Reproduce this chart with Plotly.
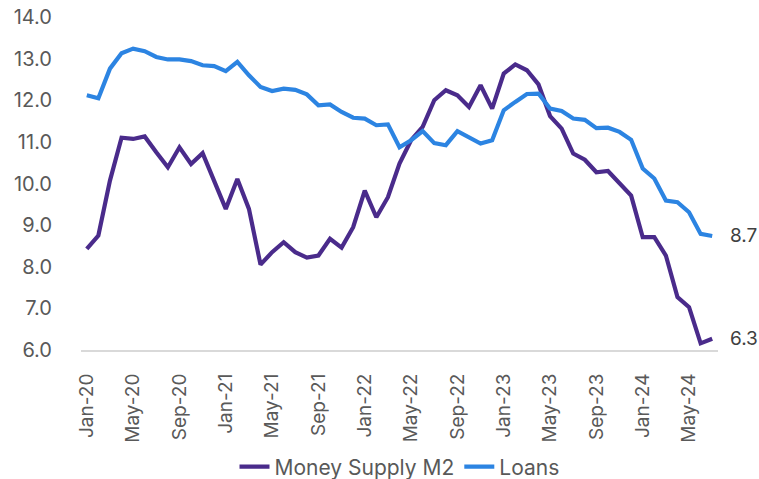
import plotly.graph_objects as go

# monthly, Jan-20 .. Jul-24
months = [f"{m}-{y}" for y in range(20, 25)
          for m in ["Jan", "Feb", "Mar", "Apr", "May", "Jun",
                    "Jul", "Aug", "Sep", "Oct", "Nov", "Dec"]][:55]

m2 = [8.43, 8.75, 10.07, 11.10, 11.07, 11.13, 10.75, 10.39, 10.87, 10.47,
      10.73, 10.07, 9.39, 10.11, 9.39, 8.05, 8.35, 8.59, 8.35, 8.22,
      8.27, 8.67, 8.46, 8.95, 9.83, 9.19, 9.67, 10.48, 11.04, 11.36,
      12.00, 12.24, 12.12, 11.84, 12.36, 11.80, 12.64, 12.86, 12.72, 12.38,
      11.62, 11.32, 10.72, 10.57, 10.27, 10.30, 10.00, 9.71, 8.71, 8.71,
      8.27, 7.27, 7.03, 6.16, 6.27]

loans = [12.12, 12.05, 12.76, 13.13, 13.24, 13.18, 13.04, 12.98, 12.98, 12.94,
         12.84, 12.82, 12.70, 12.92, 12.60, 12.32, 12.22, 12.28, 12.25, 12.14,
         11.88, 11.90, 11.72, 11.58, 11.56, 11.40, 11.42, 10.87, 11.04, 11.26,
         10.97, 10.92, 11.26, 11.10, 10.96, 11.04, 11.76, 11.96, 12.15, 12.16,
         11.80, 11.74, 11.56, 11.53, 11.33, 11.34, 11.24, 11.05, 10.36, 10.12,
         9.59, 9.55, 9.31, 8.79, 8.74]

y_ticks = [6, 7, 8, 9, 10, 11, 12, 13, 14]

series = [("Money Supply M2", m2, "#4a2b8b"), ("Loans", loans, "#2c84e2")]

FONT = "Inter"
GREY = "#595959"

fig = go.Figure()
for name, vals, col in series:
    fig.add_trace(go.Scatter(x=months, y=vals, name=name, mode="lines",
                             line=dict(color=col, width=4.2)))
    # end value label
    fig.add_annotation(x=months[-1], y=vals[-1], text=f"{vals[-1]:.1f}",
                       showarrow=False, xanchor="left", xshift=16,
                       font=dict(family=FONT, size=19, color="#404040"))

fig.update_layout(
    width=759, height=479,
    margin=dict(l=81, r=41, t=17, b=129, autoexpand=False),
    plot_bgcolor="white", paper_bgcolor="white",
    font=dict(family=FONT, size=20, color=GREY),
    legend=dict(orientation="h", x=0.5, xanchor="center",
                yref="container", y=0.025, yanchor="middle",
                font=dict(size=21, color=GREY),
                itemwidth=30, traceorder="normal"),
)
fig.update_xaxes(type="category", range=[-0.5, len(months) - 0.5],
                 tickvals=months[::4], ticktext=months[::4], tickangle=-90,
                 showgrid=False, zeroline=False, showline=True,
                 linecolor="#d9d9d9", linewidth=2,
                 ticks="outside", ticklen=14, tickcolor="rgba(0,0,0,0)",
                 tickfont=dict(size=19, color=GREY))
fig.update_yaxes(range=[6, 14], tickvals=y_ticks,
                 ticktext=[f"{v:.1f}" for v in y_ticks],
                 showgrid=False, zeroline=False, showline=False,
                 ticks="outside", ticklen=24, tickcolor="rgba(0,0,0,0)",
                 ticklabeloverflow="allow",
                 tickfont=dict(size=20, color=GREY))

# drop the default 8px page margin so the figure sits at 0,0
fig.write_html("out.html", config={"displayModeBar": False},
               post_script="document.body.style.margin='0';")
